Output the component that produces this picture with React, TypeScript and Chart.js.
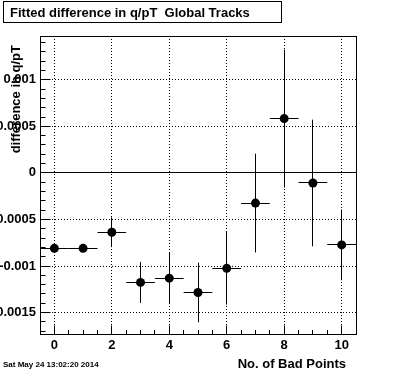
import React, { useEffect, useRef } from 'react';
import { Chart, registerables } from 'chart.js';

Chart.register(...registerables);

// ---- data ----
const nBadPoints = [0, 1, 2, 3, 4, 5, 6, 7, 8, 9, 10];
const diffValues = [-0.00081, -0.00081, -0.000637, -0.001176, -0.00113, -0.001284, -0.001025, -0.000324, 0.000583, -0.000108, -0.000773];
const diffErrors = [0.00002, 0.00002, 0.00016, 0.00022, 0.00028, 0.00032, 0.00039, 0.00053, 0.00074, 0.00068, 0.00038];
const binHalfWidths = [0.5, 0.5, 0.5, 0.5, 0.5, 0.5, 0.5, 0.5, 0.5, 0.5, 0.5];

const xTickValues = [0, 2, 4, 6, 8, 10];
const xTickLabels = ['0', '2', '4', '6', '8', '10'];
const yTickValues = [-0.0015, -0.001, -0.0005, 0, 0.0005, 0.001];
const yTickLabels = ['-0.0015', '-0.001', '-0.0005', '0', '0.0005', '0.001'];

const xMin = -0.5;
const xMax = 10.5;
const yMin = -0.00173;
const yMax = 0.00147;

const titleText = 'Fitted difference in q/pT  Global Tracks';
const xTitleText = 'No. of Bad Points';
const yTitleText = 'difference in q/pT';
const dateText = 'Sat May 24 13:02:20 2014';

const FONT = "'Liberation Sans', Arial, Helvetica, sans-serif";

const align = (p: number) => Math.round(p - 0.5) + 0.5;

const rootPlugin = {
  id: 'rootStyle',
  beforeDatasetsDraw(chart: any) {
    const { ctx, chartArea: a, scales } = chart;
    const x = scales.x;
    const y = scales.y;
    ctx.save();
    ctx.strokeStyle = '#000';
    ctx.lineWidth = 1;
    ctx.setLineDash([]);
    // zero line
    const y0 = align(y.getPixelForValue(0));
    ctx.beginPath();
    ctx.moveTo(a.left, y0);
    ctx.lineTo(a.right, y0);
    ctx.stroke();
    // error bars
    ctx.beginPath();
    nBadPoints.forEach((xv, i) => {
      const px = align(x.getPixelForValue(xv));
      const py = align(y.getPixelForValue(diffValues[i]));
      const xl = Math.max(a.left, x.getPixelForValue(xv - binHalfWidths[i]));
      const xr = Math.min(a.right, x.getPixelForValue(xv + binHalfWidths[i]));
      const yt = y.getPixelForValue(diffValues[i] + diffErrors[i]);
      const yb = y.getPixelForValue(diffValues[i] - diffErrors[i]);
      ctx.moveTo(xl, py);
      ctx.lineTo(xr, py);
      ctx.moveTo(px, yt);
      ctx.lineTo(px, yb);
    });
    ctx.stroke();
    ctx.restore();
  },
  afterDraw(chart: any) {
    const { ctx, chartArea: a, scales } = chart;
    const x = scales.x;
    const y = scales.y;
    ctx.save();
    ctx.strokeStyle = '#000';
    ctx.fillStyle = '#000';
    ctx.lineWidth = 1;
    ctx.setLineDash([]);
    // frame
    const L = align(a.left);
    const R = align(a.right);
    const T = align(a.top);
    const B = align(a.bottom);
    ctx.strokeRect(L, T, R - L, B - T);
    // inner ticks x
    ctx.beginPath();
    for (let k = 0; k <= 20; k++) {
      const v = k * 0.5;
      if (v <= xMin || v >= xMax) continue;
      const px = align(x.getPixelForValue(v));
      const major = xTickValues.some((t) => Math.abs(t - v) < 1e-9);
      const len = major ? 9 : 4.5;
      ctx.moveTo(px, B);
      ctx.lineTo(px, B - len);
    }
    // inner ticks y
    for (let k = -17; k <= 14; k++) {
      const v = k * 0.0001;
      if (v <= yMin || v >= yMax) continue;
      const py = align(y.getPixelForValue(v));
      const major = yTickValues.some((t) => Math.abs(t - v) < 1e-9);
      const len = major ? 10 : 5;
      ctx.moveTo(L, py);
      ctx.lineTo(L + len, py);
    }
    ctx.stroke();

    // title box
    ctx.strokeRect(3.5, 1.5, 278, 21);
    ctx.font = `bold 13px ${FONT}`;
    ctx.textAlign = 'left';
    ctx.textBaseline = 'alphabetic';
    ctx.fillText(titleText, 10, 16.5);

    // x title
    ctx.textAlign = 'right';
    ctx.fillText(xTitleText, 346, 368);

    // y title
    ctx.save();
    ctx.translate(20, 45);
    ctx.rotate(-Math.PI / 2);
    ctx.textAlign = 'right';
    ctx.fillText(yTitleText, 0, 0);
    ctx.restore();

    // date stamp
    ctx.font = `bold 8px ${FONT}`;
    ctx.textAlign = 'left';
    ctx.fillText(dateText, 3, 367);
    ctx.restore();
  },
};

export default function App() {
  const canvasRef = useRef<HTMLCanvasElement | null>(null);

  useEffect(() => {
    const canvas = canvasRef.current;
    if (!canvas) return;
    const chart = new Chart(canvas, {
      type: 'scatter',
      data: {
        datasets: [
          {
            data: nBadPoints.map((xv, i) => ({ x: xv, y: diffValues[i] })),
            pointRadius: 4.5,
            pointHoverRadius: 4.5,
            pointStyle: 'circle',
            backgroundColor: '#000',
            borderColor: '#000',
            borderWidth: 0,
          },
        ],
      },
      options: {
        responsive: false,
        animation: false,
        devicePixelRatio: 1,
        events: [],
        layout: { padding: { left: 0, top: 36, right: 40, bottom: 0 } },
        plugins: {
          legend: { display: false },
          tooltip: { enabled: false },
          title: { display: false },
        },
        scales: {
          x: {
            type: 'linear',
            position: 'bottom',
            min: xMin,
            max: xMax,
            afterBuildTicks: (s: any) => {
              s.ticks = xTickValues.map((v) => ({ value: v }));
            },
            afterFit: (s: any) => {
              s.height = 38;
            },
            grid: { color: '#000', lineWidth: 1, drawTicks: false },
            border: { display: false, dash: [1, 2] },
            ticks: {
              autoSkip: false,
              maxRotation: 0,
              padding: 4,
              color: '#000',
              font: { family: FONT, size: 13, weight: 'bold' },
              callback: (v: any) => {
                const i = xTickValues.findIndex((t) => Math.abs(t - v) < 1e-9);
                return i >= 0 ? xTickLabels[i] : '';
              },
            },
          },
          y: {
            type: 'linear',
            position: 'left',
            min: yMin,
            max: yMax,
            afterBuildTicks: (s: any) => {
              s.ticks = yTickValues.map((v) => ({ value: v }));
            },
            afterFit: (s: any) => {
              s.width = 40;
            },
            grid: { color: '#000', lineWidth: 1, drawTicks: false },
            border: { display: false, dash: [1, 2] },
            ticks: {
              autoSkip: false,
              padding: 4,
              color: '#000',
              font: { family: FONT, size: 13, weight: 'bold' },
              callback: (v: any) => {
                const i = yTickValues.findIndex((t) => Math.abs(t - v) < 1e-12);
                return i >= 0 ? yTickLabels[i] : '';
              },
            },
          },
        },
      } as any,
      plugins: [rootPlugin],
    });
    return () => chart.destroy();
  }, []);

  return (
    <div style={{ position: 'fixed', left: 0, top: 0, width: 396, height: 372, background: '#fff' }}>
      <canvas ref={canvasRef} width={396} height={372} style={{ display: 'block' }} />
    </div>
  );
}
